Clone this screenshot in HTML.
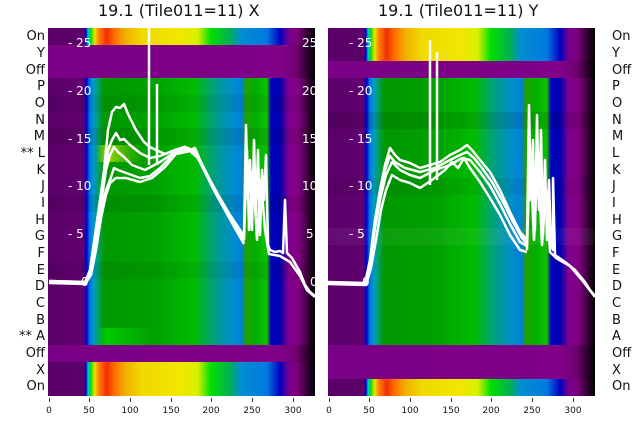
<!DOCTYPE html>
<html><head><style>
body{margin:0;width:640px;height:440px;background:#fff;position:relative;overflow:hidden;font-family:"DejaVu Sans","Liberation Sans",sans-serif;}
.p{position:absolute;width:267px;}
.spec{position:absolute;left:0;width:267px;background:linear-gradient(90deg,#5a0068 0%,#5c006a 13.5%,#0000d0 14.2%,#00c0e0 15%,#00e000 16%,#f0e000 17.5%,#ff8000 19%,#f03000 22%,#ff7000 25%,#f0b000 29%,#f0d800 35%,#f0e800 50%,#d8f000 56%,#00e000 61%,#00b050 68%,#0090d0 72%,#0078e0 82%,#0000c0 87%,#700090 90%,#800080 93%,#000 100%);}
.purp{position:absolute;left:0;width:267px;background:linear-gradient(90deg,#7a0086 0%,#800088 88%,#700070 93%,#000 100%);}
.body{position:absolute;left:0;width:267px;background:linear-gradient(90deg,#5a006a 0%,#620070 13%,#0000c8 14.5%,#0070e0 15.5%,#0099d0 17%,#00a060 19%,#009800 21%,#00a000 40%,#00bc00 55%,#00a080 62%,#0090c0 68%,#0080e0 72.5%,#20a000 74%,#00b000 78%,#10c000 82%,#0000c0 83.5%,#0000b0 87%,#800090 90%,#800080 94%,#000 100%);}
.sh{position:absolute;left:0;width:267px;}
.lbl{position:absolute;font-size:13px;color:#111;}
.L{right:595px;text-align:right;}
.R{left:612px;}
.t{position:absolute;font-size:16px;color:#111;top:1px;}
.xt{position:absolute;font-size:9px;color:#111;top:406px;width:30px;text-align:center;}
.tk{position:absolute;top:398px;width:1px;height:4px;background:#333;}
.in{position:absolute;font-size:12px;color:#fff;}
</style></head><body>
<div class="t" style="left:98px">19.1 (Tile011=11) X</div>
<div class="t" style="left:378px">19.1 (Tile011=11) Y</div>

<div class="p" style="left:48px;top:28px;height:368px">
<div class="spec" style="top:0;height:17px"></div>
<div class="purp" style="top:17px;height:33px"></div>
<div class="body" style="top:50px;height:267px"></div>
<div class="sh" style="top:67px;height:17px;background:rgba(0,0,0,.06)"></div>
<div class="sh" style="top:100px;height:17px;background:rgba(0,0,0,.08)"></div>
<div class="sh" style="top:117px;height:17px;background:linear-gradient(90deg,transparent 18%,rgba(255,255,0,.6) 22%,rgba(255,255,0,.2) 30%,transparent 36%)"></div>
<div class="sh" style="top:167px;height:17px;background:rgba(0,0,0,.07)"></div>
<div class="sh" style="top:234px;height:17px;background:rgba(0,0,0,.06)"></div>
<div class="sh" style="top:300px;height:17px;background:linear-gradient(90deg,transparent 18%,rgba(0,255,0,.5) 22%,transparent 40%)"></div>
<div class="purp" style="top:317px;height:17px"></div>
<div class="spec" style="top:334px;height:34px"></div>
</div>

<div class="p" style="left:328px;top:28px;height:368px">
<div class="spec" style="top:0;height:33px"></div>
<div class="purp" style="top:33px;height:17px"></div>
<div class="body" style="top:50px;height:267px"></div>
<div class="sh" style="top:84px;height:17px;background:rgba(0,0,0,.1)"></div>
<div class="sh" style="top:150px;height:17px;background:rgba(0,0,0,.06)"></div>
<div class="sh" style="top:200px;height:17px;background:rgba(255,255,255,.05)"></div>
<div class="purp" style="top:317px;height:34px"></div>
<div class="spec" style="top:351px;height:17px"></div>
</div>

<svg width="640" height="440" style="position:absolute;left:0;top:0">
<defs>
<clipPath id="cl"><rect x="48" y="28" width="267" height="368"/></clipPath>
<clipPath id="cr"><rect x="328" y="28" width="267" height="368"/></clipPath>
</defs>
<g clip-path="url(#cl)" fill="none" stroke="#fff" stroke-width="2.5" stroke-linejoin="round">
<polyline points="49,281 85,282 90,270 95,235 100,200 104,170 108,130 112,112 116,107 120,108 124,104 128,114 136,130 144,142 150,147 156,150 165,154 175,150 185,147 190,150 195,148 200,160 210,180 220,198 230,215 240,230 244,236"/>
<polyline points="49,281 85,282 90,272 95,240 100,205 104,180 108,150 112,140 116,133 120,140 124,139 130,145 140,153 150,158 160,156 175,150 185,147 190,150 195,150 200,162 210,182 220,200 230,218 240,232 244,238"/>
<polyline points="49,282 85,283 90,273 95,245 100,210 106,170 110,155 114,147 118,152 124,157 132,165 145,170 160,162 175,152 188,148 195,152 202,166 212,186 222,204 232,222 244,240"/>
<polyline points="49,282 85,283 90,274 95,250 100,215 106,190 110,180 114,168 118,170 126,173 140,178 150,176 160,168 175,153 190,149 196,154 204,170 214,190 224,208 234,226 244,242"/>
<polyline points="49,283 85,284 91,275 96,250 101,218 106,195 110,183 116,178 126,178 140,182 152,178 165,167 176,154 190,151 198,158 206,174 216,194 226,212 236,230 244,244"/>
<polyline points="244,236 246,125 248,200 250,160 252,230 254,140 256,215 258,150 260,235 262,170 264,200 266,155 268,245 270,250 275,252 280,251 283,253 285,200 287,253 292,258 300,272 305,285 310,292 315,296"/>
<polyline points="244,240 247,150 249,230 253,170 257,240 261,180 265,230 269,254 280,256 290,262 300,276 307,290 315,297"/>
<line x1="149" y1="28" x2="149" y2="165"/><line x1="157" y1="84" x2="157" y2="165"/>
</g>
<g clip-path="url(#cr)" fill="none" stroke="#fff" stroke-width="2.5" stroke-linejoin="round">
<polyline points="328,282 365,283 370,260 375,220 380,190 385,165 390,148 395,155 400,160 410,163 420,168 430,165 440,162 450,155 460,150 467,145 472,150 480,160 490,172 500,190 510,212 520,232 527,240"/>
<polyline points="328,283 365,284 370,262 375,224 380,195 385,170 390,156 395,162 405,168 420,172 435,168 450,160 460,155 467,152 474,158 482,168 492,182 502,200 512,220 522,238 527,244"/>
<polyline points="328,283 365,284 370,263 375,228 380,200 386,175 392,162 400,170 410,175 420,178 435,170 450,165 462,158 470,160 480,172 490,186 500,204 510,224 520,242 527,246"/>
<polyline points="328,284 366,285 371,268 376,240 381,210 386,190 392,175 400,180 410,183 420,188 432,180 445,170 452,162 458,168 464,158 470,168 480,182 490,198 500,215 510,235 520,250 527,252"/>
<polyline points="527,240 529,105 531,200 533,140 535,230 537,115 539,210 541,130 543,235 545,160 547,240 549,180 551,245 553,250 553,178 555,255 565,262 575,270 585,282 590,290 595,296"/>
<polyline points="527,250 530,150 534,240 538,160 542,245 546,190 550,252 556,258 570,266 582,280 595,297"/>
<line x1="430" y1="40" x2="430" y2="185"/><line x1="437" y1="52" x2="437" y2="180"/>
</g>
</svg>

<div class="in" style="left:68px;top:36px">- 25</div><div class="in" style="left:68px;top:84px">- 20</div>
<div class="in" style="left:68px;top:132px">- 15</div><div class="in" style="left:68px;top:179px">- 10</div>
<div class="in" style="left:68px;top:227px">- 5</div><div class="in" style="left:81px;top:275px">0</div>
<div class="in" style="left:302px;top:36px">25</div><div class="in" style="left:302px;top:84px">20</div>
<div class="in" style="left:302px;top:132px">15</div><div class="in" style="left:302px;top:179px">10</div>
<div class="in" style="left:306px;top:227px">5</div><div class="in" style="left:310px;top:275px">0</div>
<div class="in" style="left:349px;top:36px">- 25</div><div class="in" style="left:349px;top:84px">- 20</div>
<div class="in" style="left:349px;top:132px">- 15</div><div class="in" style="left:349px;top:179px">- 10</div>
<div class="in" style="left:349px;top:227px">- 5</div><div class="in" style="left:362px;top:275px">0</div>

<div class="lbl L" style="top:29px">On</div><div class="lbl L" style="top:46px">Y</div><div class="lbl L" style="top:63px">Off</div>
<div class="lbl L" style="top:79px">P</div><div class="lbl L" style="top:96px">O</div><div class="lbl L" style="top:113px">N</div>
<div class="lbl L" style="top:129px">M</div><div class="lbl L" style="top:146px">** L</div><div class="lbl L" style="top:163px">K</div>
<div class="lbl L" style="top:179px">J</div><div class="lbl L" style="top:196px">I</div><div class="lbl L" style="top:213px">H</div>
<div class="lbl L" style="top:229px">G</div><div class="lbl L" style="top:246px">F</div><div class="lbl L" style="top:263px">E</div>
<div class="lbl L" style="top:279px">D</div><div class="lbl L" style="top:296px">C</div><div class="lbl L" style="top:313px">B</div>
<div class="lbl L" style="top:329px">** A</div><div class="lbl L" style="top:346px">Off</div><div class="lbl L" style="top:363px">X</div>
<div class="lbl L" style="top:379px">On</div>

<div class="lbl R" style="top:29px">On</div><div class="lbl R" style="top:46px">Y</div><div class="lbl R" style="top:63px">Off</div>
<div class="lbl R" style="top:79px">P</div><div class="lbl R" style="top:96px">O</div><div class="lbl R" style="top:113px">N</div>
<div class="lbl R" style="top:129px">M</div><div class="lbl R" style="top:146px">L</div><div class="lbl R" style="top:163px">K</div>
<div class="lbl R" style="top:179px">J</div><div class="lbl R" style="top:196px">I</div><div class="lbl R" style="top:213px">H</div>
<div class="lbl R" style="top:229px">G</div><div class="lbl R" style="top:246px">F</div><div class="lbl R" style="top:263px">E</div>
<div class="lbl R" style="top:279px">D</div><div class="lbl R" style="top:296px">C</div><div class="lbl R" style="top:313px">B</div>
<div class="lbl R" style="top:329px">A</div><div class="lbl R" style="top:346px">Off</div><div class="lbl R" style="top:363px">X</div>
<div class="lbl R" style="top:379px">On</div>

<div class="tk" style="left:49px"></div><div class="tk" style="left:89px"></div><div class="tk" style="left:130px"></div><div class="tk" style="left:171px"></div><div class="tk" style="left:211px"></div><div class="tk" style="left:252px"></div><div class="tk" style="left:293px"></div>
<div class="xt" style="left:34px">0</div><div class="xt" style="left:74px">50</div><div class="xt" style="left:115px">100</div><div class="xt" style="left:156px">150</div><div class="xt" style="left:196px">200</div><div class="xt" style="left:237px">250</div><div class="xt" style="left:278px">300</div>
<div class="tk" style="left:329px"></div><div class="tk" style="left:369px"></div><div class="tk" style="left:410px"></div><div class="tk" style="left:451px"></div><div class="tk" style="left:491px"></div><div class="tk" style="left:532px"></div><div class="tk" style="left:573px"></div>
<div class="xt" style="left:314px">0</div><div class="xt" style="left:354px">50</div><div class="xt" style="left:395px">100</div><div class="xt" style="left:436px">150</div><div class="xt" style="left:476px">200</div><div class="xt" style="left:517px">250</div><div class="xt" style="left:558px">300</div>
</body></html>
